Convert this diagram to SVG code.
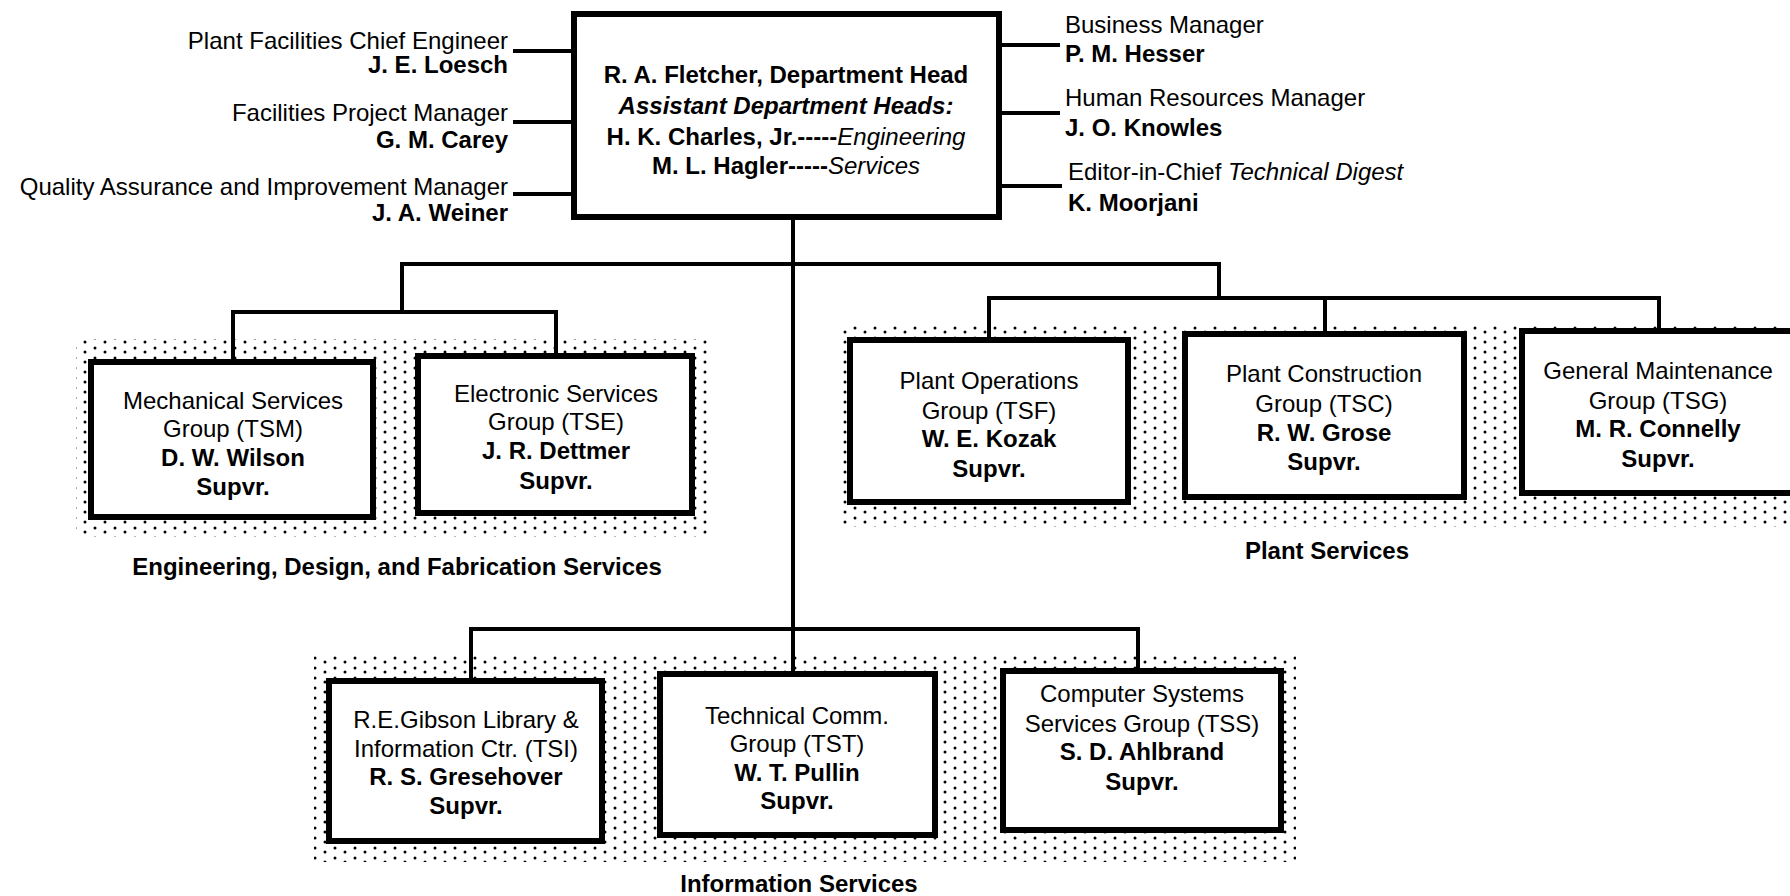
<svg xmlns="http://www.w3.org/2000/svg" width="1790" height="896" viewBox="0 0 1790 896">
<defs>
<pattern id="dots" patternUnits="userSpaceOnUse" width="20" height="10">
<circle cx="5" cy="2" r="1.5" fill="#000"/>
<circle cx="15" cy="8" r="1.5" fill="#000"/>
</pattern>
</defs>
<style>
text{font-family:"Liberation Sans",Arial,Helvetica,sans-serif;font-size:24px;fill:#000}
.b{font-weight:bold}
.i{font-style:italic}
.c{text-anchor:middle}
.r{text-anchor:end}
.box{fill:#fff;stroke:#000;stroke-width:6}
.shade{fill:url(#dots)}
.ln{fill:none;stroke:#000;stroke-width:4;stroke-linecap:square}
</style>
<rect width="1790" height="896" fill="#fff"/>

<g id="shading">
<rect class="shade" x="76" y="339" width="632" height="198"/>
<rect class="shade" x="837" y="325" width="953" height="202"/>
<rect class="shade" x="314" y="656" width="982" height="206"/>
</g>

<g id="connectors">
<path class="ln" d="M515 51H574M515 122H574M515 194H574"/>
<path class="ln" d="M999 45H1058M999 113H1058M999 186H1060"/>
<path class="ln" d="M793 217V674"/>
<path class="ln" d="M402 312V264H1219V298"/>
<path class="ln" d="M233 362V312H556V356"/>
<path class="ln" d="M989 340V298H1659V331M1325 298V334"/>
<path class="ln" d="M471 681V629H1138V671"/>
</g>

<g id="head">
<rect class="box" x="574" y="14" width="425" height="203"/>
<text class="c b" x="786" y="83">R. A. Fletcher, Department Head</text>
<text class="c b i" x="786" y="114">Assistant Department Heads:</text>
<text class="c" x="786" y="145"><tspan class="b">H. K. Charles, Jr.-----</tspan><tspan class="i">Engineering</tspan></text>
<text class="c" x="786" y="174"><tspan class="b">M. L. Hagler-----</tspan><tspan class="i">Services</tspan></text>
</g>

<g id="chief-engineer">
<text class="r" x="508" y="49">Plant Facilities Chief Engineer</text>
<text class="r b" x="508" y="73">J. E. Loesch</text>
</g>
<g id="project-manager">
<text class="r" x="508" y="121">Facilities Project Manager</text>
<text class="r b" x="508" y="148">G. M. Carey</text>
</g>
<g id="qa-manager">
<text class="r" x="508" y="195">Quality Assurance and Improvement Manager</text>
<text class="r b" x="508" y="221">J. A. Weiner</text>
</g>

<g id="business-manager">
<text x="1065" y="33">Business Manager</text>
<text class="b" x="1065" y="62">P. M. Hesser</text>
</g>
<g id="hr-manager">
<text x="1065" y="106">Human Resources Manager</text>
<text class="b" x="1065" y="136">J. O. Knowles</text>
</g>
<g id="editor">
<text x="1068" y="180">Editor-in-Chief <tspan class="i">Technical Digest</tspan></text>
<text class="b" x="1068" y="211">K. Moorjani</text>
</g>

<g id="tsm">
<rect class="box" x="91" y="362" width="282" height="155"/>
<text class="c" x="233" y="409">Mechanical Services</text>
<text class="c" x="233" y="437">Group (TSM)</text>
<text class="c b" x="233" y="466">D. W. Wilson</text>
<text class="c b" x="233" y="495">Supvr.</text>
</g>
<g id="tse">
<rect class="box" x="418" y="356" width="274" height="157"/>
<text class="c" x="556" y="402">Electronic Services</text>
<text class="c" x="556" y="430">Group (TSE)</text>
<text class="c b" x="556" y="459">J. R. Dettmer</text>
<text class="c b" x="556" y="489">Supvr.</text>
</g>
<g id="edf-label">
<text class="c b" x="397" y="575">Engineering, Design, and Fabrication Services</text>
</g>

<g id="tsf">
<rect class="box" x="850" y="340" width="278" height="162"/>
<text class="c" x="989" y="389">Plant Operations</text>
<text class="c" x="989" y="419">Group (TSF)</text>
<text class="c b" x="989" y="447">W. E. Kozak</text>
<text class="c b" x="989" y="477">Supvr.</text>
</g>
<g id="tsc">
<rect class="box" x="1185" y="334" width="279" height="163"/>
<text class="c" x="1324" y="382">Plant Construction</text>
<text class="c" x="1324" y="412">Group (TSC)</text>
<text class="c b" x="1324" y="441">R. W. Grose</text>
<text class="c b" x="1324" y="470">Supvr.</text>
</g>
<g id="tsg">
<rect class="box" x="1522" y="331" width="280" height="162"/>
<text class="c" x="1658" y="379">General Maintenance</text>
<text class="c" x="1658" y="409">Group (TSG)</text>
<text class="c b" x="1658" y="437">M. R. Connelly</text>
<text class="c b" x="1658" y="467">Supvr.</text>
</g>
<g id="plant-label">
<text class="c b" x="1327" y="559">Plant Services</text>
</g>

<g id="tsi">
<rect class="box" x="329" y="681" width="273" height="160"/>
<text class="c" x="466" y="728">R.E.Gibson Library &amp;</text>
<text class="c" x="466" y="757">Information Ctr. (TSI)</text>
<text class="c b" x="466" y="785">R. S. Gresehover</text>
<text class="c b" x="466" y="814">Supvr.</text>
</g>
<g id="tst">
<rect class="box" x="660" y="674" width="275" height="161"/>
<text class="c" x="797" y="724">Technical Comm.</text>
<text class="c" x="797" y="752">Group (TST)</text>
<text class="c b" x="797" y="781">W. T. Pullin</text>
<text class="c b" x="797" y="809">Supvr.</text>
</g>
<g id="tss">
<rect class="box" x="1003" y="671" width="278" height="159"/>
<text class="c" x="1142" y="702">Computer Systems</text>
<text class="c" x="1142" y="732">Services Group (TSS)</text>
<text class="c b" x="1142" y="760">S. D. Ahlbrand</text>
<text class="c b" x="1142" y="790">Supvr.</text>
</g>
<g id="info-label">
<text class="c b" x="799" y="892">Information Services</text>
</g>
</svg>
